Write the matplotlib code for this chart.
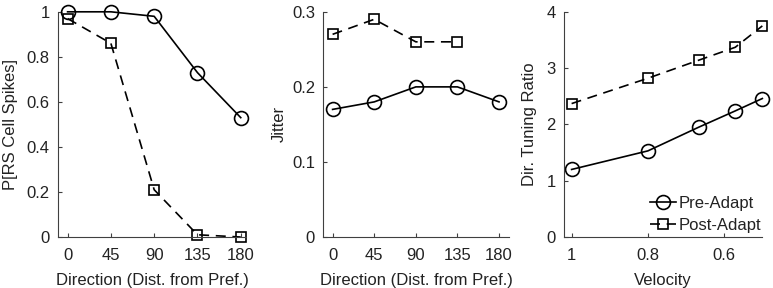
import matplotlib
matplotlib.use("Agg")
import matplotlib.pyplot as plt

plt.rcParams['font.family'] = ['Liberation Sans', 'DejaVu Sans']
plt.rcParams['font.size'] = 12
plt.rcParams['text.color'] = '#222222'
plt.rcParams['axes.labelcolor'] = '#222222'
plt.rcParams['xtick.labelcolor'] = '#222222'
plt.rcParams['ytick.labelcolor'] = '#222222'

directions = [0, 45, 90, 135, 180]
prob_pre = [1.0, 1.0, 0.98, 0.73, 0.53]
prob_post = [0.97, 0.86, 0.21, 0.01, 0.0]

jitter_dirs_post = [0, 45, 90, 135]
jitter_pre = [0.17, 0.18, 0.20, 0.20, 0.18]
jitter_post = [0.27, 0.29, 0.26, 0.26]

velocity = [1.0, 0.8, 0.667, 0.571, 0.5]
ratio_pre = [1.2, 1.53, 1.95, 2.24, 2.46]
ratio_post = [2.37, 2.82, 3.14, 3.37, 3.75]

dir_ticks = [0, 45, 90, 135, 180]

fig = plt.figure(figsize=(7.73, 2.88), dpi=100)
H = 0.782
B = 0.177
ax1 = fig.add_axes([0.0750, B, 0.2433, H])
ax2 = fig.add_axes([0.4183, B, 0.2402, H])
ax3 = fig.add_axes([0.7296, B, 0.2566, H])

spine_col = '#404040'
lw = 1.2
pre_kw = dict(color='black', lw=lw, marker='o', markersize=10,
              markerfacecolor='none', markeredgewidth=1.2, clip_on=False)
post_kw = dict(color='black', lw=lw, ls=(0, (6, 4)), marker='s', markersize=7.5,
               markerfacecolor='none', markeredgewidth=1.2, clip_on=False)

def style(ax):
    for s in ['top', 'right']:
        ax.spines[s].set_visible(False)
    for s in ['left', 'bottom']:
        ax.spines[s].set_color(spine_col)
        ax.spines[s].set_linewidth(0.8)
    ax.tick_params(direction='in', length=3, width=0.8, color=spine_col,
                   labelsize=12, pad=6)
    ax.tick_params(axis='x', pad=8)

ax1.plot(directions, prob_pre, **pre_kw)
ax1.plot(directions, prob_post, **post_kw)
ax1.set_xlim(-10, 185.5)
ax1.set_ylim(0, 1)
ax1.set_xticks(dir_ticks)
ax1.set_yticks([0, 0.2, 0.4, 0.6, 0.8, 1])
ax1.set_yticklabels(['0', '0.2', '0.4', '0.6', '0.8', '1'])
ax1.set_xlabel('Direction (Dist. from Pref.)', labelpad=7)
ax1.set_ylabel('P[RS Cell Spikes]', labelpad=6)
style(ax1)

ax2.plot(directions, jitter_pre, **pre_kw)
ax2.plot(jitter_dirs_post, jitter_post, **post_kw)
ax2.set_xlim(-10, 190.8)
ax2.set_ylim(0, 0.3)
ax2.set_xticks(dir_ticks)
ax2.set_yticks([0, 0.1, 0.2, 0.3])
ax2.set_yticklabels(['0', '0.1', '0.2', '0.3'])
ax2.set_xlabel('Direction (Dist. from Pref.)', labelpad=7)
ax2.set_ylabel('Jitter', labelpad=3.5)
style(ax2)

ax3.plot(velocity, ratio_pre, label='Pre-Adapt', **pre_kw)
ax3.plot(velocity, ratio_post, label='Post-Adapt', **post_kw)
ax3.set_xlim(1.02, 0.5)
ax3.set_ylim(0, 4)
ax3.set_xticks([1.0, 0.8, 0.6])
ax3.set_xticklabels(['1', '0.8', '0.6'])
ax3.set_yticks([0, 1, 2, 3, 4])
ax3.set_xlabel('Velocity', labelpad=7)
ax3.set_ylabel('Dir. Tuning Ratio', labelpad=7)
style(ax3)
ax3.legend(loc='lower right', frameon=False, handlelength=1.6, handletextpad=0.15,
           labelspacing=0.4, borderaxespad=0.0, fontsize=12,
           bbox_to_anchor=(1.03, -0.01))

fig.savefig('out.png', dpi=100)
